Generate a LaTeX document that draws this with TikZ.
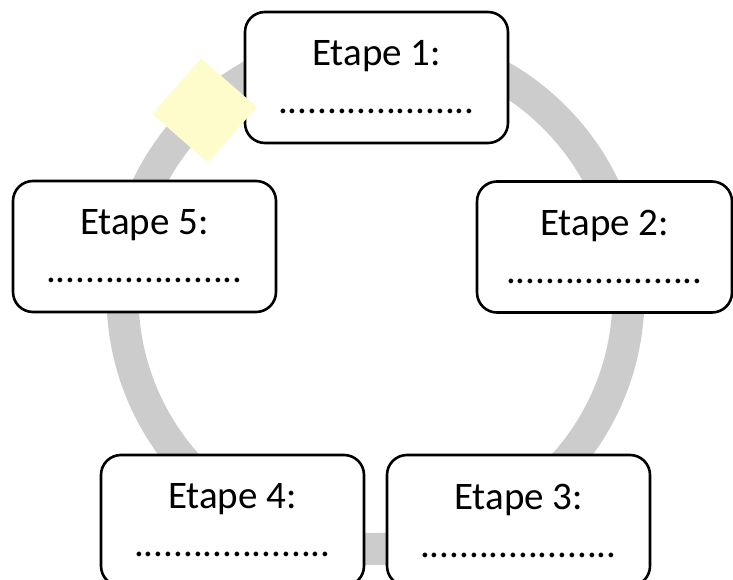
\documentclass[tikz,border=0pt]{standalone}
\usepackage{fontspec}
\setmainfont{Carlito}

\begin{document}
\begin{tikzpicture}[x=1pt, y=-1pt,
        etape/.style={draw, line width=2.6pt, rounded corners=20pt, fill=white,
            minimum width=263pt, minimum height=131pt, inner sep=0pt,
            align=center, font=\fontsize{39}{48}\selectfont},
        ring/.style={draw=gray!40, line width=32pt},
        marker/.style={fill=yellow!20, minimum size=74pt, inner sep=0pt, rotate=48.8}]
    \useasboundingbox (0,0) rectangle (733,580);
    \draw[ring] (375.5,296) circle[radius=253];
    \node[etape] (etape1) at (376.5,77.5) {Etape 1:\\....................};
    \node[etape, minimum width=255pt] (etape2) at (604.5,247) {Etape 2:\\....................};
    \node[etape] (etape3) at (518.5,520.5) {Etape 3:\\....................};
    \node[etape] (etape4) at (232.5,520.5) {Etape 4:\\....................};
    \node[etape] (etape5) at (144.5,246.5) {Etape 5:\\....................};
    \node[marker] (losange) at (204.5,110.5) {};
\end{tikzpicture}
\end{document}
